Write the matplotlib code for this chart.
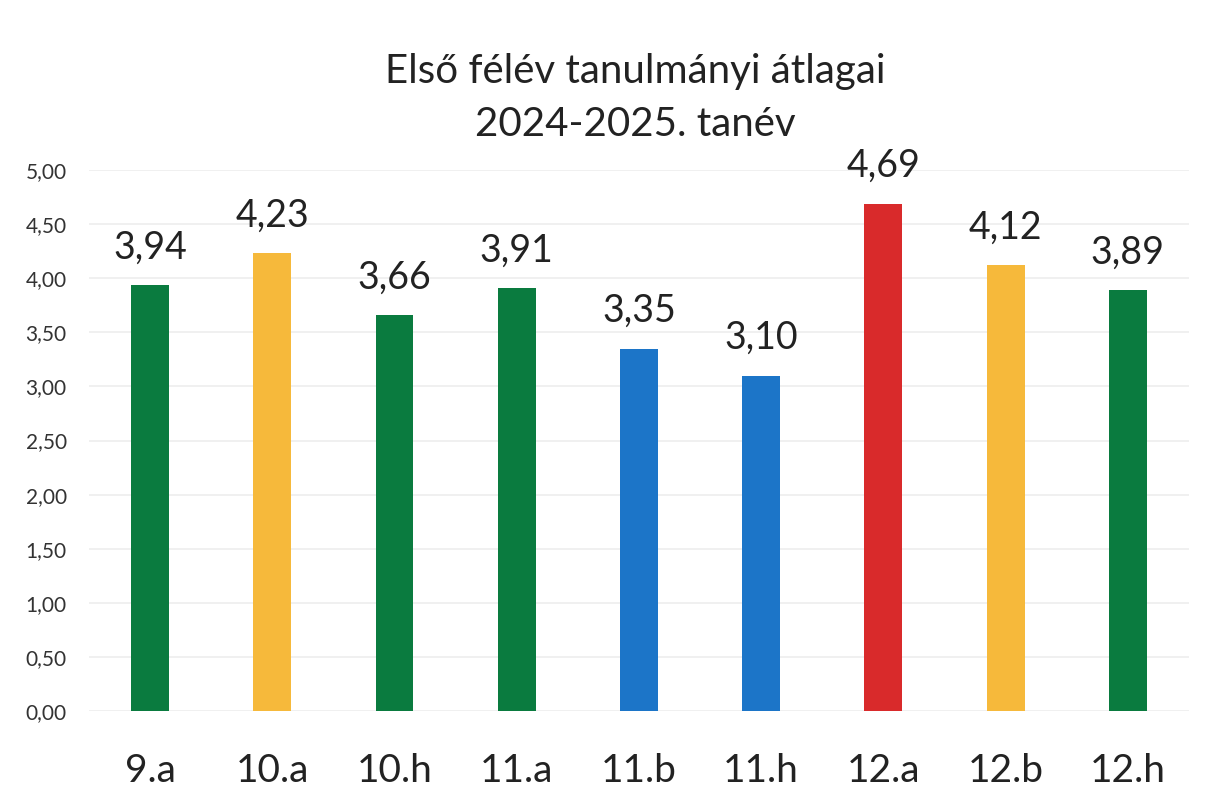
"""Első félév tanulmányi átlagai, 2024-2025. tanév - osztályonkénti oszlopdiagram"""

import matplotlib.pyplot as plt
from matplotlib.ticker import FuncFormatter

osztalyok = ["9.a", "10.a", "10.h", "11.a", "11.b", "11.h", "12.a", "12.b", "12.h"]
atlagok = [3.94, 4.23, 3.66, 3.91, 3.35, 3.10, 4.69, 4.12, 3.89]
szinek = ["#0a7b3f", "#f6b93b", "#0a7b3f", "#0a7b3f", "#1c75c8",
          "#1c75c8", "#d92a2b", "#f6b93b", "#0a7b3f"]

plt.rcParams['font.family'] = ['Lato', 'DejaVu Sans']

fig = plt.figure(figsize=(12.05, 7.98), dpi=100)
ax = fig.add_axes([89 / 1205, 1 - 711 / 798, 1100 / 1205, 541 / 798])

x = range(len(osztalyok))
bars = ax.bar(x, atlagok, width=0.31, color=szinek, zorder=2)

# value labels above the bars, comma as decimal separator
for b, v in zip(bars, atlagok):
    ax.annotate(f"{v:.2f}".replace(".", ","),
                (b.get_x() + b.get_width() / 2, v),
                xytext=(0, 14), textcoords="offset points",
                ha="center", va="bottom", fontsize=27, color="#222222")

ax.set_ylim(0, 5)
ax.set_xlim(-0.5, len(osztalyok) - 0.5)
ax.set_yticks([i * 0.5 for i in range(11)])
ax.yaxis.set_major_formatter(FuncFormatter(lambda v, p: f"{v:.2f}".replace(".", ",")))
ax.set_xticks(list(x))
ax.set_xticklabels(osztalyok, fontsize=28, color="#222222")
ax.tick_params(axis="x", length=0, pad=30)
ax.tick_params(axis="y", length=0, pad=16, labelsize=15, labelcolor="#333333")
ax.grid(axis="y", color="#eeeeee", linewidth=1.2, zorder=0)
for s in ax.spines.values():
    s.set_visible(False)

fig.text(0.527, 1 - 72 / 798, "Első félév tanulmányi átlagai", ha="center",
         va="center", fontsize=29, color="#222222")
fig.text(0.527, 1 - 125 / 798, "2024-2025. tanév", ha="center",
         va="center", fontsize=29, color="#222222")

fig.savefig("out.png", dpi=100)
